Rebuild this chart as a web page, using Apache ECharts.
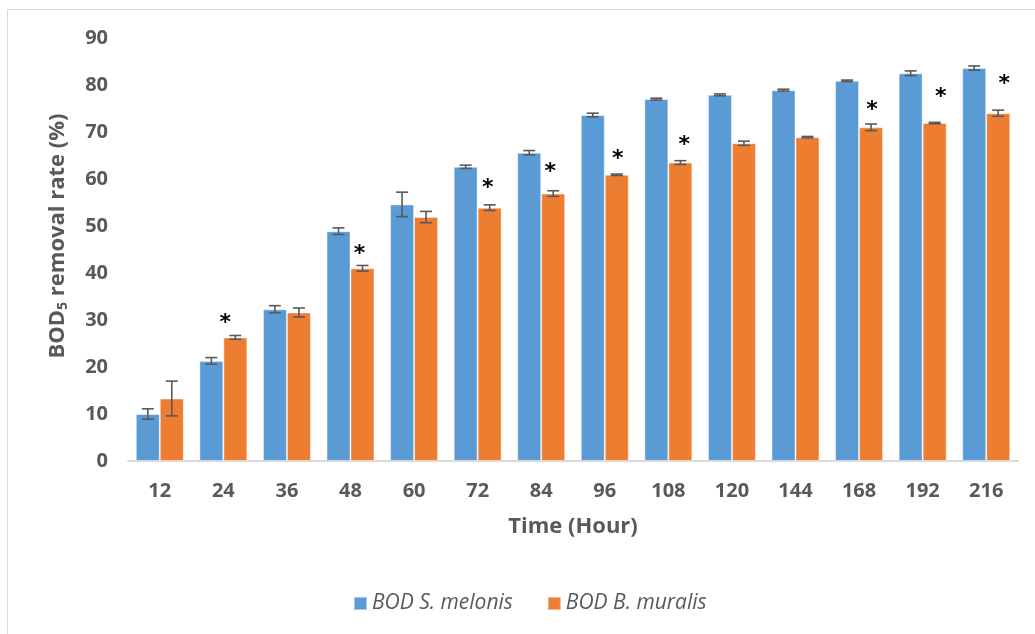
<!DOCTYPE html>
<html>
<head>
<meta charset="utf-8">
<script src="https://cdn.jsdelivr.net/npm/echarts@6/dist/echarts.min.js"></script>
<style>html,body{margin:0;padding:0;background:#fff}#c{width:1035px;height:634px}</style>
</head>
<body>
<div id="c"></div>
<script>
// ---- data ----
var timeLabels = ['12','24','36','48','60','72','84','96','108','120','144','168','192','216'];
var melonis    = [10.0, 21.3, 32.3, 48.9, 54.6, 62.6, 65.6, 73.6, 77.0, 77.9, 78.9, 80.9, 82.5, 83.6];
var melonisErr = [1.1, 0.7, 0.75, 0.7, 2.6, 0.35, 0.45, 0.4, 0.2, 0.2, 0.2, 0.15, 0.5, 0.45];
var muralis    = [13.3, 26.3, 31.6, 41.0, 51.9, 53.9, 56.9, 60.9, 63.5, 67.6, 68.9, 71.0, 71.9, 74.0];
var muralisErr = [3.7, 0.4, 0.95, 0.6, 1.2, 0.6, 0.6, 0.15, 0.4, 0.45, 0.15, 0.7, 0.15, 0.65];
var significant = [false,true,false,true,false,true,true,true,true,false,false,true,true,true];
var yTicks = [0,10,20,30,40,50,60,70,80,90];

// ---- styles ----
var starOffsets = [[0,0],[-10,20],[0,0],[-3,20],[0,0],[-2,25],[-3,27],[1,21],[4,23],[0,0],[0,0],[1,23],[6,32],[6,35]];
var BLUE = '#5B9BD5', ORANGE = '#ED7D31', GREY = '#595959';
var FONT = 'Open Sans';
var CAT_GAP = 0.245;

var chart = echarts.init(document.getElementById('c'), null, {renderer:'canvas'});

function errSeries(vals, errs, side) {
  return {
    type: 'custom',
    silent: true,
    z: 5,
    data: vals.map(function(v, i){ return [i, v, errs[i]]; }),
    renderItem: function(params, api) {
      var i = api.value(0), v = api.value(1), e = api.value(2);
      var catW = api.size([1, 0])[0];
      var bw = catW * (1 - CAT_GAP) / 2;
      var hi = api.coord([i, v + e]);
      var lo = api.coord([i, v - e]);
      var x = hi[0] + side * bw / 2;
      var cap = 6;
      var st = {stroke: GREY, lineWidth: 1.6};
      return {type: 'group', children: [
        {type:'line', shape:{x1:x, y1:hi[1], x2:x, y2:lo[1]}, style:st},
        {type:'line', shape:{x1:x-cap, y1:hi[1], x2:x+cap, y2:hi[1]}, style:st},
        {type:'line', shape:{x1:x-cap, y1:lo[1], x2:x+cap, y2:lo[1]}, style:st}
      ]};
    }
  };
}

var muralisData = muralis.map(function(v, i){
  var item = {value: v};
  if (significant[i]) {
    item.label = {show: true, formatter: '*', offset: [starOffsets[i][0], -starOffsets[i][1] + 6]};
  }
  return item;
});

chart.setOption({
  animation: false,
  backgroundColor: '#fff',
  grid: {left: 128, right: 17, top: 38, bottom: 173, containLabel: false},
  legend: {
    data: ['BOD S. melonis', 'BOD B. muralis'],
    top: 588,
    left: 348,
    itemWidth: 13, itemHeight: 13, itemGap: 34,
    icon: 'rect',
    textStyle: {fontFamily: FONT, fontStyle: 'italic', fontSize: 21, color: GREY}
  },
  xAxis: {
    type: 'category',
    data: timeLabels,
    name: 'Time (Hour)',
    nameLocation: 'middle',
    nameGap: 55,
    nameTextStyle: {fontFamily: FONT, fontWeight: 'bold', fontSize: 22, color: GREY},
    axisLine: {lineStyle: {color: '#D9D9D9', width: 2}},
    axisTick: {show: false},
    axisLabel: {fontFamily: FONT, fontWeight: 'bold', fontSize: 20, color: GREY, margin: 20, interval: 0}
  },
  yAxis: {
    type: 'value',
    min: yTicks[0], max: yTicks[yTicks.length-1], interval: 10,
    splitLine: {show: false},
    axisLine: {show: false},
    axisTick: {show: false},
    axisLabel: {fontFamily: FONT, fontWeight: 'bold', fontSize: 20, color: GREY, margin: 20}
  },
  graphic: [
    {type: 'rect', shape: {x: 7.5, y: 9.5, width: 1100, height: 700}, style: {fill: 'none', stroke: '#D9D9D9', lineWidth: 1}, silent: true, z: -10},
    {type: 'text', x: 58, y: 236, rotation: Math.PI/2, silent: true,
     style: {text: '{a|BOD}{b|5}{a| removal rate (%)}', align: 'center', verticalAlign: 'middle',
       rich: {a: {fontFamily: FONT, fontWeight: 'bold', fontSize: 22, fill: GREY},
              b: {fontFamily: FONT, fontWeight: 'bold', fontSize: 14, fill: GREY, padding: [11,0,0,0]}}}}
  ],
  series: [
    {name: 'BOD S. melonis', type: 'bar', data: melonis, barGap: '0%', barCategoryGap: (CAT_GAP*100)+'%',
     itemStyle: {color: BLUE, borderColor: 'rgba(255,255,255,0.45)', borderWidth: 1}},
    {name: 'BOD B. muralis', type: 'bar', data: muralisData, barGap: '0%', barCategoryGap: (CAT_GAP*100)+'%',
     itemStyle: {color: ORANGE, borderColor: 'rgba(255,255,255,0.45)', borderWidth: 1},
     label: {show: false, position: 'top', distance: 0, verticalAlign: 'middle', fontFamily: 'DejaVu Sans', fontWeight: 'bold', fontSize: 22, color: '#000'}},
    errSeries(melonis, melonisErr, -1),
    errSeries(muralis, muralisErr, 1)
  ]
});
</script>
</body>
</html>
